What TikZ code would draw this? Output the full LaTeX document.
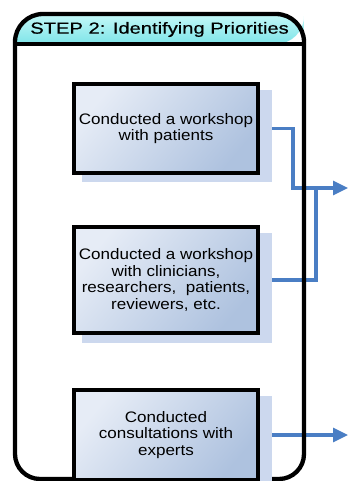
\documentclass[tikz,border=0pt]{standalone}
\usepackage{fontspec}
\setmainfont{Liberation Sans}
\newfontfamily\boxfont[FakeStretch=1.12]{Liberation Sans}
\newfontfamily\headfont[FakeStretch=1.26,FakeBold=0.6]{Liberation Sans}
\usetikzlibrary{arrows.meta}
\pgfdeclarelayer{bgzero}
\pgfdeclarelayer{bgone}
\pgfdeclarelayer{bgtwo}
\pgfdeclarelayer{bgthree}
\pgfsetlayers{bgzero,bgone,bgtwo,bgthree,main}
\definecolor{conncol}{HTML}{4A7EC4}
\definecolor{boxlight}{HTML}{E6ECF6}
\definecolor{boxdark}{HTML}{AEC2DF}
\definecolor{shadowcol}{HTML}{CCD8EE}
\definecolor{headtop}{HTML}{C4F8F8}
\definecolor{headbot}{HTML}{7EE4E8}
\tikzset{
  stepbox/.style={draw=black, line width=4.5pt, rectangle, minimum width=184pt,
    align=center, font=\boxfont\fontsize{15.2pt}{16.6pt}\selectfont,
    top color=boxlight, bottom color=boxdark, shading angle=50, inner sep=0pt},
  boxshadow/.style={fill=shadowcol},
  conn/.style={draw=conncol, line width=3.2pt},
  connarrow/.style={conn, -{Triangle[length=15pt,width=14pt]}},
  frame/.style={draw=black, line width=4.3pt}
}
\begin{document}
\begin{tikzpicture}[x=1pt,y=-1pt]
\useasboundingbox (0,0) rectangle (348,481);
% boxes
\node[stepbox, minimum height=89pt] (b1) at (166,128.5) {Conducted a workshop\\with patients};
\node[stepbox, minimum height=106pt] (b2) at (166,280) {Conducted a workshop\\with clinicians,\\researchers,\ \ patients,\\reviewers, etc.};
\node[stepbox, minimum height=90pt] (b3) at (166,435) {Conducted\\consultations with\\experts};
\node[font=\headfont\fontsize{16pt}{18pt}\selectfont] (hd) at (159.5,29.5) {STEP 2: Identifying Priorities};
% coordinates
\coordinate (k1) at (293,128.5);
\coordinate (k2) at (293,188);
\coordinate (j) at (316,188);
\coordinate (k3) at (316,280);
\coordinate (t1) at (348,188);
\coordinate (t3) at (348,435);
\begin{pgfonlayer}{bgzero}
\fill[white] (15,250) [rounded corners=28] |- (159,14) -| (304,250) [rounded corners=25] |- (159,479) -| (15,250) -- cycle;
\shade[top color=headtop, bottom color=headbot] (15,44) [rounded corners=28] |- (159,14) -| (304,44) [sharp corners] -- cycle;
\end{pgfonlayer}
\begin{pgfonlayer}{bgone}
\draw[connarrow] (b1.east) -- (k1) -- (k2) -- (t1);
\draw[conn] (b2.east) -- (k3) -- (j);
\draw[connarrow] (b3.east) -- (t3);
\end{pgfonlayer}
\begin{pgfonlayer}{bgtwo}
\draw[frame] (15,250) [rounded corners=28] |- (159,14) -| (304,250) [rounded corners=25] |- (159,479) -| (15,250) -- cycle;
\draw[frame] (15,44) -- (304,44);
\end{pgfonlayer}
\begin{pgfonlayer}{bgthree}
\fill[boxshadow] (82,90) rectangle (272,182);
\fill[boxshadow] (82,233) rectangle (272,343);
\fill[boxshadow] (82,396) rectangle (272,490);
\end{pgfonlayer}
\end{tikzpicture}
\end{document}
